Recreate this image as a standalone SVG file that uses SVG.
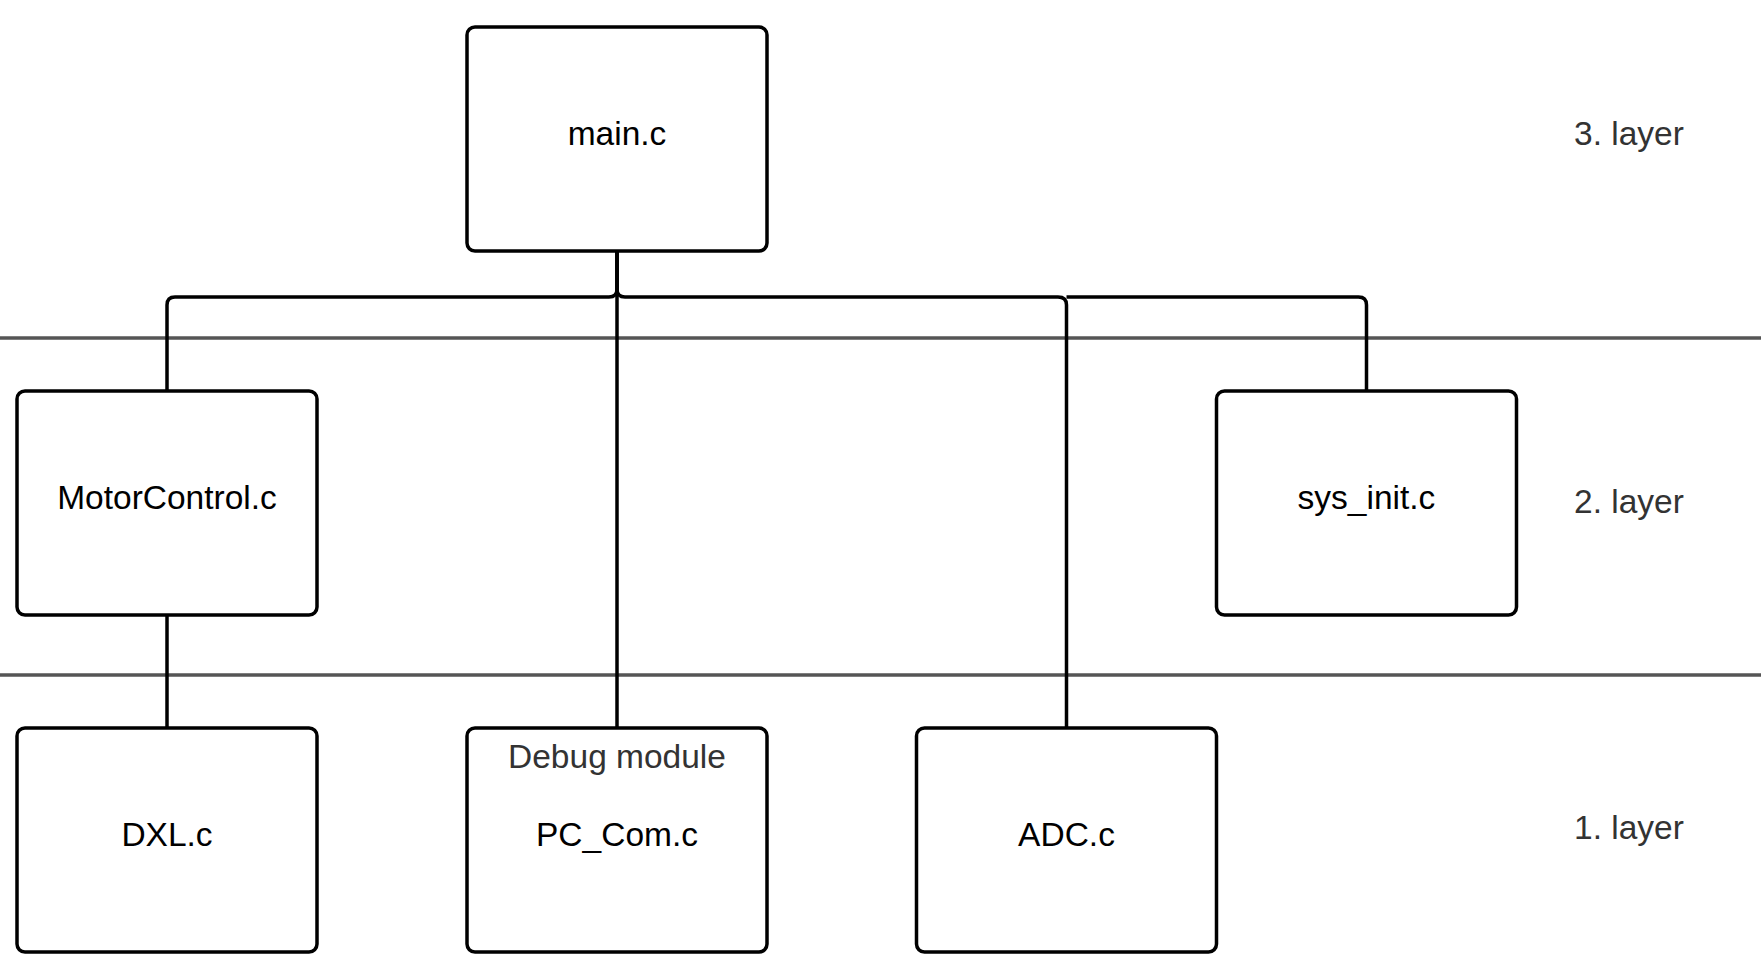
<svg xmlns="http://www.w3.org/2000/svg" width="1761" height="973" viewBox="0 0 1761 973">
  <style>
    .box { fill: #ffffff; stroke: #000000; stroke-width: 3.5; }
    .lbl { font-family: "Liberation Sans", Arial, sans-serif; font-size: 33.5px; fill: #000000; text-anchor: middle; }
    .sub { font-family: "Liberation Sans", Arial, sans-serif; font-size: 33.5px; fill: #333333; text-anchor: middle; }
    .layer { font-family: "Liberation Sans", Arial, sans-serif; font-size: 33.5px; fill: #333333; text-anchor: start; }
    .sep { stroke: #555555; stroke-width: 3.5; fill: none; }
    .conn { stroke: #000000; stroke-width: 3.5; fill: none; stroke-linejoin: round; }
  </style>
  <rect x="0" y="0" width="1761" height="973" fill="#ffffff"/>

  <g id="separators">
    <line class="sep" x1="0" y1="338" x2="1761" y2="338"/>
    <line class="sep" x1="0" y1="675" x2="1761" y2="675"/>
  </g>

  <g id="layer-labels">
    <text class="layer" x="1574" y="145">3. layer</text>
    <text class="layer" x="1574" y="513">2. layer</text>
    <text class="layer" x="1574" y="839">1. layer</text>
  </g>

  <g id="connectors">
    <path class="conn" d="M617,251 V289 Q617,297 609,297 H175 Q167,297 167,305 V390"/>
    <path class="conn" d="M617,251 V289 Q617,297 625,297 H1058 Q1066.5,297 1066.5,305 V728"/>
    <path class="conn" d="M617,251 V728"/>
    <path class="conn" d="M1066.5,297 H1358.5 Q1366.5,297 1366.5,305 V390"/>
    <path class="conn" d="M167,615 V728"/>
  </g>

  <g id="main">
    <rect class="box" x="467" y="27" width="300" height="224" rx="8"/>
    <text class="lbl" x="617" y="145">main.c</text>
  </g>

  <g id="motorcontrol">
    <rect class="box" x="17" y="391" width="300" height="224" rx="8"/>
    <text class="lbl" x="167" y="509">MotorControl.c</text>
  </g>

  <g id="sys_init">
    <rect class="box" x="1216.5" y="391" width="300" height="224" rx="8"/>
    <text class="lbl" x="1366.5" y="509">sys_init.c</text>
  </g>

  <g id="dxl">
    <rect class="box" x="17" y="728" width="300" height="224" rx="8"/>
    <text class="lbl" x="167" y="846">DXL.c</text>
  </g>

  <g id="pc_com">
    <rect class="box" x="467" y="728" width="300" height="224" rx="8"/>
    <text class="sub" x="617" y="768">Debug module</text>
    <text class="lbl" x="617" y="846">PC_Com.c</text>
  </g>

  <g id="adc">
    <rect class="box" x="916.5" y="728" width="300" height="224" rx="8"/>
    <text class="lbl" x="1066.5" y="846">ADC.c</text>
  </g>
</svg>
